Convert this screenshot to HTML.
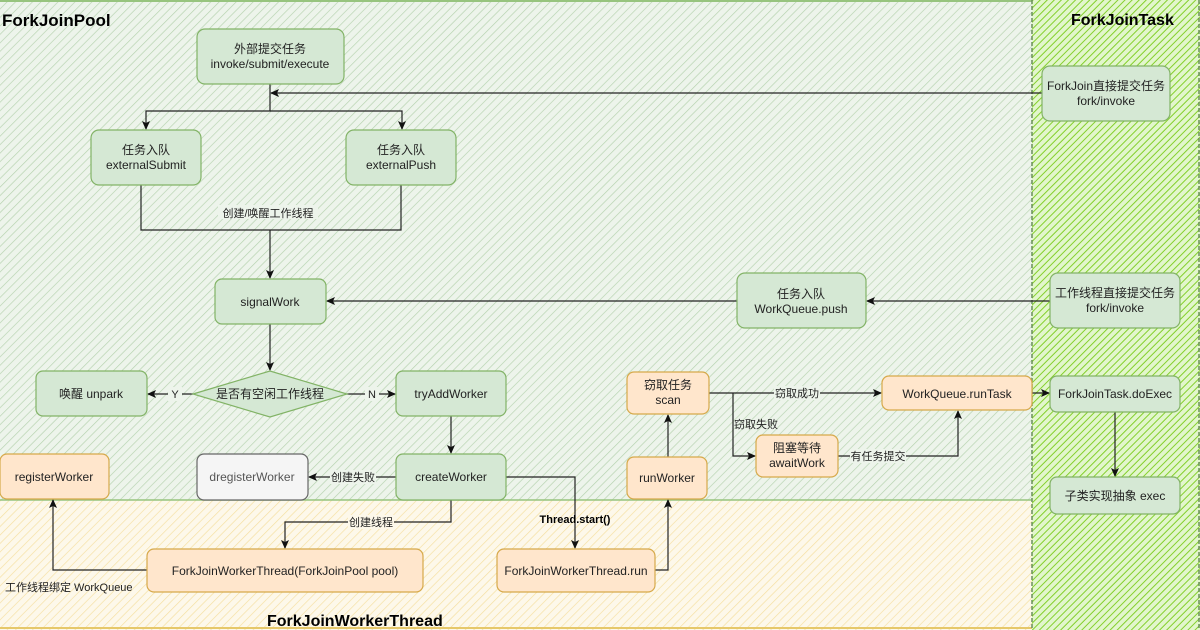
<!DOCTYPE html>
<html><head><meta charset="utf-8"><style>
html,body{margin:0;padding:0;background:#fff}
svg{display:block}
text{font-family:"Liberation Sans","Noto Sans CJK SC",sans-serif;font-size:12px;fill:#222}
</style></head><body>
<svg width="1200" height="630" xmlns="http://www.w3.org/2000/svg">
<defs>
<pattern id="hg" width="6" height="6" patternUnits="userSpaceOnUse" patternTransform="rotate(45)">
<rect width="6" height="6" fill="#edf4eb"/><line x1="0" y1="0" x2="0" y2="6" stroke="#b5d2ae" stroke-width="1.3"/></pattern>
<pattern id="ho" width="6" height="6" patternUnits="userSpaceOnUse" patternTransform="rotate(45)">
<rect width="6" height="6" fill="#fdf8ea"/><line x1="0" y1="0" x2="0" y2="6" stroke="#f5df9f" stroke-width="1.3"/></pattern>
<pattern id="hb" width="5" height="5" patternUnits="userSpaceOnUse" patternTransform="rotate(45)">
<rect width="5" height="5" fill="#e2f6cc"/><line x1="0" y1="0" x2="0" y2="5" stroke="#84d02c" stroke-width="2"/></pattern>
<marker id="a" markerWidth="10" markerHeight="10" refX="8" refY="5" orient="auto" markerUnits="userSpaceOnUse">
<path d="M0,1 L9,5 L0,9 L2,5 z" fill="#111"/></marker>
</defs>
<rect x="0" y="0" width="1032" height="500" fill="url(#hg)"/>
<rect x="0" y="500" width="1032" height="130" fill="url(#ho)"/>
<line x1="0" y1="1" x2="1032" y2="1" stroke="#97c47e" stroke-width="2"/>
<line x1="0" y1="500" x2="1032" y2="500" stroke="#97c47e" stroke-width="1.5"/>
<line x1="0" y1="628" x2="1032" y2="628" stroke="#e6c86a" stroke-width="2"/>
<rect x="1032" y="0" width="168" height="630" fill="url(#hb)"/>
<line x1="1032" y1="0" x2="1032" y2="630" stroke="#6a8f5a" stroke-width="1.5" stroke-dasharray="4 2"/>
<line x1="1199" y1="0" x2="1199" y2="630" stroke="#6a8f5a" stroke-width="1.5" stroke-dasharray="4 2"/>
<text x="2" y="26" style="font-size:17px;font-weight:bold;fill:#000">ForkJoinPool</text>
<text x="1071" y="25" style="font-size:16px;font-weight:bold;fill:#000">ForkJoinTask</text>
<text x="267" y="626" style="font-size:16px;font-weight:bold;fill:#000">ForkJoinWorkerThread</text>

<g stroke="#222" stroke-width="1.2" fill="none">
<path d="M1042,93 H271" marker-end="url(#a)"/>
<path d="M270,84 V111 H146 V129" marker-end="url(#a)"/>
<path d="M270,111 H402 V129" marker-end="url(#a)"/>
<path d="M141,185 V230 H401 V185"/>
<path d="M270,230 V278" marker-end="url(#a)"/>
<path d="M1050,301 H867" marker-end="url(#a)"/>
<path d="M737,301 H327" marker-end="url(#a)"/>
<path d="M270,324 V370" marker-end="url(#a)"/>
<path d="M193,394 H148" marker-end="url(#a)"/>
<path d="M347,394 H395" marker-end="url(#a)"/>
<path d="M451,416 V453" marker-end="url(#a)"/>
<path d="M396,477 H309" marker-end="url(#a)"/>
<path d="M451,500 V522 H285 V548" marker-end="url(#a)"/>
<path d="M506,477 H575 V548" marker-end="url(#a)"/>
<path d="M147,570 H53 V500" marker-end="url(#a)"/>
<path d="M655,570 H668 V500" marker-end="url(#a)"/>
<path d="M668,457 V415" marker-end="url(#a)"/>
<path d="M709,393 H881" marker-end="url(#a)"/>
<path d="M733,393 V456 H755" marker-end="url(#a)"/>
<path d="M838,456 H958 V411" marker-end="url(#a)"/>
<path d="M1032,393 H1049" marker-end="url(#a)"/>
<path d="M1115,412 V476" marker-end="url(#a)"/>
</g>
<g style="font-size:11px">
<rect x="218" y="205" width="100" height="14" fill="#edf4eb"/><text x="268" y="217" text-anchor="middle" style="font-size:11px">创建/唤醒工作线程</text>
<rect x="168" y="387" width="14" height="14" fill="#edf4eb"/><text x="175" y="398" text-anchor="middle" style="font-size:11px">Y</text>
<rect x="365" y="387" width="14" height="14" fill="#edf4eb"/><text x="372" y="398" text-anchor="middle" style="font-size:11px">N</text>
<rect x="330" y="470" width="46" height="14" fill="#edf4eb"/><text x="353" y="481" text-anchor="middle" style="font-size:11px">创建失败</text>
<rect x="348" y="515" width="46" height="14" fill="#fdf8ea"/><text x="371" y="526" text-anchor="middle" style="font-size:11px">创建线程</text>
<text x="575" y="523" text-anchor="middle" style="font-weight:bold;font-size:11px;fill:#000">Thread.start()</text>
<text x="5" y="591" style="font-size:11px">工作线程绑定 WorkQueue</text>
<rect x="774" y="386" width="46" height="14" fill="#edf4eb"/><text x="797" y="397" text-anchor="middle" style="font-size:11px">窃取成功</text>
<text x="734" y="428" style="font-size:11px">窃取失败</text>
<rect x="850" y="449" width="56" height="14" fill="#edf4eb"/><text x="878" y="460" text-anchor="middle" style="font-size:11px">有任务提交</text>
</g>

<g stroke-width="1.2">
<g fill="#d5e8d4" stroke="#82b366">
<rect x="197" y="29" width="147" height="55" rx="8"/>
<rect x="91" y="130" width="110" height="55" rx="8"/>
<rect x="346" y="130" width="110" height="55" rx="8"/>
<rect x="215" y="279" width="111" height="45" rx="7"/>
<rect x="737" y="273" width="129" height="55" rx="8"/>
<rect x="36" y="371" width="111" height="45" rx="7"/>
<rect x="396" y="371" width="110" height="45" rx="7"/>
<rect x="396" y="454" width="110" height="46" rx="7"/>
<path d="M193,394 L270,371 L347,394 L270,417 z"/>
<rect x="1042" y="66" width="128" height="55" rx="8"/>
<rect x="1050" y="273" width="130" height="55" rx="8"/>
<rect x="1050" y="376" width="130" height="36" rx="7"/>
<rect x="1050" y="477" width="130" height="37" rx="7"/>
</g>
<rect x="197" y="454" width="111" height="46" rx="7" fill="#f5f5f5" stroke="#666"/>
<g fill="#ffe6cc" stroke="#d6a94a">
<rect x="0" y="454" width="109" height="45" rx="7"/>
<rect x="147" y="549" width="276" height="43" rx="7"/>
<rect x="497" y="549" width="158" height="43" rx="7"/>
<rect x="627" y="457" width="80" height="42" rx="7"/>
<rect x="627" y="372" width="82" height="42" rx="7"/>
<rect x="756" y="435" width="82" height="42" rx="7"/>
<rect x="882" y="376" width="150" height="34" rx="7"/>
</g>
</g>
<g text-anchor="middle">
<text x="270" y="53">外部提交任务</text><text x="270" y="68">invoke/submit/execute</text>
<text x="146" y="154">任务入队</text><text x="146" y="169">externalSubmit</text>
<text x="401" y="154">任务入队</text><text x="401" y="169">externalPush</text>
<text x="270" y="306">signalWork</text>
<text x="801" y="298">任务入队</text><text x="801" y="313">WorkQueue.push</text>
<text x="91" y="398">唤醒 unpark</text>
<text x="270" y="398">是否有空闲工作线程</text>
<text x="451" y="398">tryAddWorker</text>
<text x="451" y="481">createWorker</text>
<text x="252" y="481" style="fill:#555">dregisterWorker</text>
<text x="54" y="481">registerWorker</text>
<text x="285" y="575">ForkJoinWorkerThread(ForkJoinPool pool)</text>
<text x="576" y="575">ForkJoinWorkerThread.run</text>
<text x="667" y="482">runWorker</text>
<text x="668" y="389">窃取任务</text><text x="668" y="404">scan</text>
<text x="797" y="452">阻塞等待</text><text x="797" y="467">awaitWork</text>
<text x="957" y="398">WorkQueue.runTask</text>
<text x="1106" y="90">ForkJoin直接提交任务</text><text x="1106" y="105">fork/invoke</text>
<text x="1115" y="297">工作线程直接提交任务</text><text x="1115" y="312">fork/invoke</text>
<text x="1115" y="398">ForkJoinTask.doExec</text>
<text x="1115" y="500">子类实现抽象 exec</text>
</g>
</svg>
</body></html>
